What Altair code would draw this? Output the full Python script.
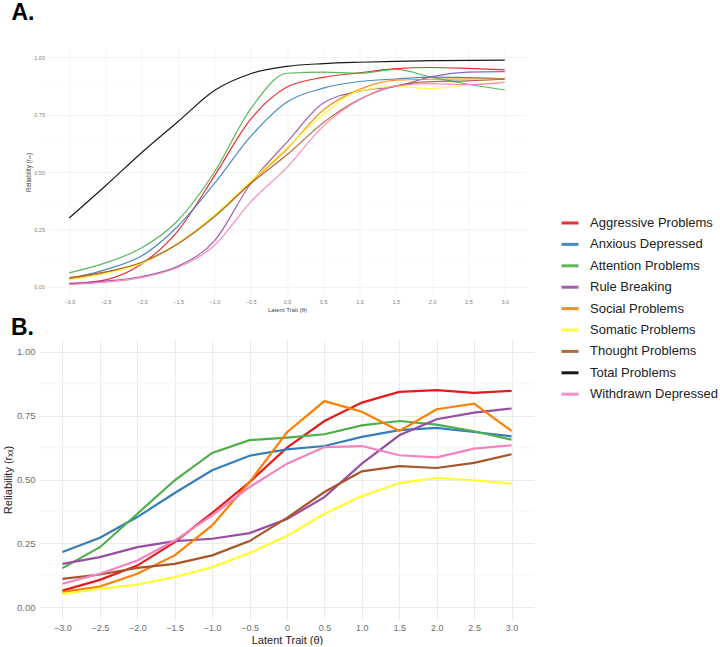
import altair as alt
import pandas as pd

series = ["Aggressive Problems", "Anxious Depressed", "Attention Problems", "Rule Breaking",
          "Social Problems", "Somatic Problems", "Thought Problems", "Total Problems",
          "Withdrawn Depressed"]
colors = ["#E41A1C", "#377EB8", "#4DAF4A", "#984EA3", "#FF7F00", "#FFFF33", "#A65628",
          "#000000", "#F781BF"]

theta = [-3.0, -2.5, -2.0, -1.5, -1.0, -0.5, 0.0, 0.5, 1.0, 1.5, 2.0, 2.5, 3.0]
x_ticks = theta
y_ticks = [0.0, 0.25, 0.5, 0.75, 1.0]
y_minor = [0.125, 0.375, 0.625, 0.875]

# Panel A: reliability curves
a_aggressive = [0.013, 0.030, 0.100, 0.245, 0.483, 0.730, 0.870, 0.912, 0.932, 0.950, 0.955, 0.951, 0.945]
a_anxious    = [0.035, 0.075, 0.135, 0.265, 0.450, 0.655, 0.805, 0.865, 0.894, 0.905, 0.913, 0.911, 0.907]
a_attention  = [0.061, 0.104, 0.170, 0.290, 0.500, 0.775, 0.930, 0.935, 0.930, 0.947, 0.912, 0.882, 0.857]
a_rule       = [0.015, 0.025, 0.045, 0.090, 0.200, 0.450, 0.630, 0.800, 0.852, 0.873, 0.915, 0.935, 0.937]
a_social     = [0.035, 0.062, 0.105, 0.190, 0.310, 0.455, 0.600, 0.770, 0.860, 0.900, 0.904, 0.905, 0.907]
a_somatic    = [0.030, 0.058, 0.103, 0.190, 0.312, 0.460, 0.605, 0.750, 0.853, 0.872, 0.863, 0.880, 0.890]
a_thought    = [0.040, 0.065, 0.107, 0.188, 0.305, 0.450, 0.575, 0.715, 0.817, 0.875, 0.894, 0.897, 0.904]
a_total      = [0.300, 0.440, 0.585, 0.720, 0.855, 0.928, 0.960, 0.972, 0.978, 0.982, 0.985, 0.986, 0.987]
a_withdrawn  = [0.010, 0.020, 0.040, 0.085, 0.180, 0.370, 0.520, 0.700, 0.815, 0.875, 0.885, 0.880, 0.890]

# Panel B: observed reliability
b_aggressive = [0.065, 0.107, 0.163, 0.255, 0.369, 0.490, 0.625, 0.729, 0.801, 0.843, 0.850, 0.839, 0.847]
b_anxious    = [0.216, 0.272, 0.353, 0.447, 0.536, 0.593, 0.618, 0.631, 0.667, 0.693, 0.702, 0.686, 0.669]
b_attention  = [0.153, 0.235, 0.366, 0.497, 0.604, 0.654, 0.664, 0.677, 0.712, 0.729, 0.715, 0.689, 0.656]
b_rule       = [0.170, 0.196, 0.235, 0.259, 0.268, 0.290, 0.345, 0.431, 0.562, 0.673, 0.736, 0.762, 0.778]
b_social     = [0.059, 0.081, 0.131, 0.203, 0.320, 0.490, 0.685, 0.807, 0.765, 0.690, 0.775, 0.797, 0.690]
b_somatic    = [0.052, 0.072, 0.089, 0.118, 0.157, 0.212, 0.280, 0.366, 0.435, 0.486, 0.506, 0.497, 0.484]
b_thought    = [0.111, 0.128, 0.154, 0.170, 0.203, 0.259, 0.350, 0.451, 0.532, 0.552, 0.545, 0.565, 0.599]
b_withdrawn  = [0.092, 0.131, 0.183, 0.261, 0.360, 0.470, 0.562, 0.627, 0.631, 0.595, 0.587, 0.621, 0.634]

a_values = [a_aggressive, a_anxious, a_attention, a_rule, a_social, a_somatic, a_thought,
            a_total, a_withdrawn]
b_series = [s for s in series if s != "Total Problems"]
b_values = [b_aggressive, b_anxious, b_attention, b_rule, b_social, b_somatic, b_thought,
            b_withdrawn]


def long(names, vals):
    rows = []
    for n, v in zip(names, vals):
        for t, r in zip(theta, v):
            rows.append({"theta": t, "rel": r, "scale": n})
    return pd.DataFrame(rows)


df_a = long(series, a_values)
df_b = long(b_series, b_values)
df_minor = pd.DataFrame({"rel": y_minor})

FONT = "Liberation Sans"
legend = alt.Legend(orient="none", legendX=520, legendY=165, title=None,
                    symbolType="stroke", symbolStrokeWidth=3, symbolSize=289,
                    labelFontSize=13, labelColor="#222222", labelFont=FONT,
                    labelOffset=10, rowPadding=4.4)
color = alt.Color("scale:N", scale=alt.Scale(domain=series, range=colors), legend=legend)

# ---------- Panel A ----------
xa = alt.X("theta:Q", scale=alt.Scale(domain=[-3.3, 3.3], nice=False, zero=False),
           axis=alt.Axis(values=x_ticks, format=".1f", title="Latent Trait (θ)",
                         labelFontSize=5.5, labelColor="#808080", titleFontSize=6,
                         titleFontWeight="normal", titleColor="#444444", labelPadding=3,
                         titlePadding=2, ticks=False, tickSize=0, domain=False,
                         gridColor="#EFEFEF", gridWidth=0.7))
ya = alt.Y("rel:Q", scale=alt.Scale(domain=[-0.04, 1.04], nice=False, zero=False),
           axis=alt.Axis(values=y_ticks, format=".2f", title="Reliability (rₓₓ)",
                         labelFontSize=5.5, labelColor="#808080", titleFontSize=6.3,
                         titleFontWeight="normal", titleColor="#444444", labelPadding=3,
                         titlePadding=2, ticks=False, tickSize=0, domain=False,
                         gridColor="#EFEFEF", gridWidth=0.7))

minor_a = alt.Chart(df_minor).mark_rule(color="#F6F6F6", strokeWidth=0.5).encode(y=ya)
lines_a = alt.Chart(df_a).mark_line(interpolate="monotone", strokeWidth=1.2, opacity=0.9).encode(
    x=xa, y=ya, color=color)
panel_a = alt.layer(minor_a, lines_a).properties(
    width=479, height=248,
    title=alt.TitleParams("A.", anchor="start", frame="group", fontSize=23, fontWeight="bold",
                          font=FONT, color="#000000", dx=-36, offset=0, dy=-5.5,
                          baseline="alphabetic"))

# ---------- Panel B ----------
xb = alt.X("theta:Q", scale=alt.Scale(domain=[-3.3, 3.3], nice=False, zero=False),
           axis=alt.Axis(values=x_ticks,
                         labelExpr="datum.value == 0 ? '0' : format(datum.value, '.1f')",
                         title="Latent Trait (θ)", labelFontSize=9, labelColor="#6E6E6E",
                         titleFontSize=11, titleFontWeight="normal", titleColor="#222222",
                         labelPadding=3, titlePadding=2, ticks=False, tickSize=0, domain=False,
                         gridColor="#EBEBEB", gridWidth=1))
yb = alt.Y("rel:Q", scale=alt.Scale(domain=[-0.05, 1.05], nice=False, zero=False),
           axis=alt.Axis(values=y_ticks, format=".2f", title="Reliability (rₓₓ)",
                         labelFontSize=9.5, labelColor="#6E6E6E", titleFontSize=11,
                         titleFontWeight="normal", titleColor="#222222", labelPadding=5,
                         titlePadding=3, ticks=False, tickSize=0, domain=False,
                         gridColor="#EBEBEB", gridWidth=1))

minor_b = alt.Chart(df_minor).mark_rule(color="#F3F3F3", strokeWidth=0.6).encode(y=yb)
lines_b = alt.Chart(df_b).mark_line(strokeWidth=2.2).encode(x=xb, y=yb, color=color)
panel_b = alt.layer(minor_b, lines_b).properties(
    width=494, height=281,
    title=alt.TitleParams("B.", anchor="start", frame="group", fontSize=23, fontWeight="bold",
                          font=FONT, color="#000000", dx=-29, offset=0, dy=18.5,
                          baseline="alphabetic"))

chart = alt.vconcat(panel_a, panel_b, spacing=43, center=True, bounds="flush").configure(
    font=FONT, padding={"left": 2, "top": 1, "right": 0, "bottom": 0}
).configure_view(stroke=None)

chart.save("out.html", embed_options={"renderer": "svg", "actions": False})
